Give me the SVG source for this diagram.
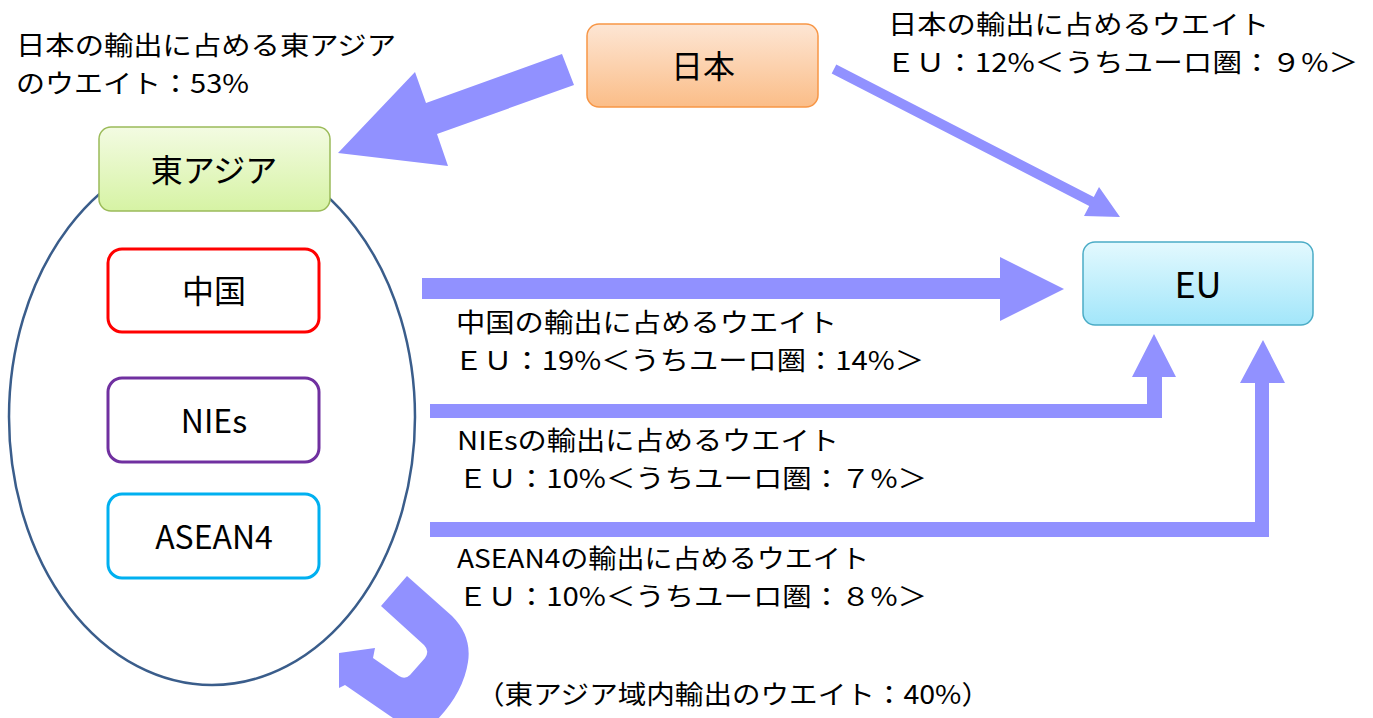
<svg xmlns="http://www.w3.org/2000/svg" width="1373" height="718" viewBox="0 0 1373 718">
<defs>
<linearGradient id="gOrange" x1="0" y1="0" x2="0" y2="1"><stop offset="0" stop-color="#fde6d4"/><stop offset="1" stop-color="#fbbd88"/></linearGradient>
<linearGradient id="gGreen" x1="0" y1="0" x2="0" y2="1"><stop offset="0" stop-color="#f3fbe2"/><stop offset="1" stop-color="#d6f3a4"/></linearGradient>
<linearGradient id="gBlue" x1="0" y1="0" x2="0" y2="1"><stop offset="0" stop-color="#e3f9fe"/><stop offset="1" stop-color="#a2e6fa"/></linearGradient>
</defs>
<style>
.lbl{font-family:"Noto Sans CJK JP","Noto Sans",sans-serif;font-size:26px;fill:#000}
.nt{font-family:"Noto Sans CJK JP","Noto Sans",sans-serif;fill:#000;text-anchor:middle}
.arr{fill:#9191ff;stroke:none}
.sub{fill:#fff;stroke-width:3}
</style>
<rect width="1373" height="718" fill="#fff"/>

<g id="east-asia-group">
<ellipse cx="212" cy="417" rx="203" ry="268" fill="none" stroke="#3a5d8b" stroke-width="2.5"/>
</g>

<g id="connectors">
<polygon class="arr" points="562,54 574,85 437,134 448,166 338,153 415,72 426,103"/>
<polygon class="arr" points="836.3,64.6 1093.8,197.1 1099,187 1120,217 1084,216 1089.2,205.9 831.7,73.4"/>
<polygon class="arr" points="422,278 1000,278 1000,257 1064,289 1000,321 1000,299 422,299"/>
<polygon class="arr" points="430,404 1147,404 1147,377 1132,377 1154,334 1176,377 1162,377 1162,418 430,418"/>
<polygon class="arr" points="430,522 1255,522 1255,383 1240,383 1263,340 1285,383 1269,383 1269,537 430,537"/>
<path class="arr" d="M407,576 L452,616 Q472,636 468,662 Q463,695 432,725 L420,745 L393,718 L345,685 L339,688 L339,653 L375,648 L373,658 L399,676 Q405,680 410,675 L425,658 Q430,651 424,645 L381,606 Z"/>
</g>

<g id="node-japan">
<rect x="587" y="24" width="231" height="83" rx="12" fill="url(#gOrange)" stroke="#f79646" stroke-width="1.5"/>
<text class="nt" x="703" y="78" font-size="32">日本</text>
</g>
<g id="node-eastasia">
<rect x="99" y="127" width="231" height="84" rx="12" fill="url(#gGreen)" stroke="#9bbb59" stroke-width="1.5"/>
<text class="nt" x="214" y="182" font-size="32">東アジア</text>
</g>
<g id="node-eu">
<rect x="1083" y="242" width="230" height="83" rx="12" fill="url(#gBlue)" stroke="#4bacc6" stroke-width="1.5"/>
<text class="nt" x="1198" y="298" font-size="36">EU</text>
</g>
<g id="node-china">
<rect class="sub" x="108" y="249" width="211" height="83" rx="14" stroke="#ff0000"/>
<text class="nt" x="214" y="303" font-size="32">中国</text>
</g>
<g id="node-nies">
<rect class="sub" x="108" y="378" width="211" height="84" rx="14" stroke="#7030a0"/>
<text class="nt" x="214" y="433" font-size="32">NIEs</text>
</g>
<g id="node-asean4">
<rect class="sub" x="108" y="494" width="211" height="84" rx="14" stroke="#00b0f0"/>
<text class="nt" x="214" y="549" font-size="32">ASEAN4</text>
</g>

<g id="labels">
<text class="lbl" x="16" y="55" textLength="380" lengthAdjust="spacingAndGlyphs">日本の輸出に占める東アジア</text>
<text class="lbl" x="16" y="93" textLength="233" lengthAdjust="spacingAndGlyphs">のウエイト：53%</text>
<text class="lbl" x="888" y="34" textLength="381" lengthAdjust="spacingAndGlyphs">日本の輸出に占めるウエイト</text>
<text class="lbl" x="886" y="72" textLength="472" lengthAdjust="spacingAndGlyphs">ＥＵ：12%＜うちユーロ圏：９%＞</text>
<text class="lbl" x="456" y="332" textLength="381" lengthAdjust="spacingAndGlyphs">中国の輸出に占めるウエイト</text>
<text class="lbl" x="454" y="370" textLength="470" lengthAdjust="spacingAndGlyphs">ＥＵ：19%＜うちユーロ圏：14%＞</text>
<text class="lbl" x="457" y="450" textLength="382" lengthAdjust="spacingAndGlyphs">NIEsの輸出に占めるウエイト</text>
<text class="lbl" x="458" y="488" textLength="469" lengthAdjust="spacingAndGlyphs">ＥＵ：10%＜うちユーロ圏：７%＞</text>
<text class="lbl" x="457" y="568" textLength="412" lengthAdjust="spacingAndGlyphs">ASEAN4の輸出に占めるウエイト</text>
<text class="lbl" x="458" y="606" textLength="469" lengthAdjust="spacingAndGlyphs">ＥＵ：10%＜うちユーロ圏：８%＞</text>
<text class="lbl" x="476" y="704" textLength="514" lengthAdjust="spacingAndGlyphs">（東アジア域内輸出のウエイト：40%）</text>
</g>
</svg>
